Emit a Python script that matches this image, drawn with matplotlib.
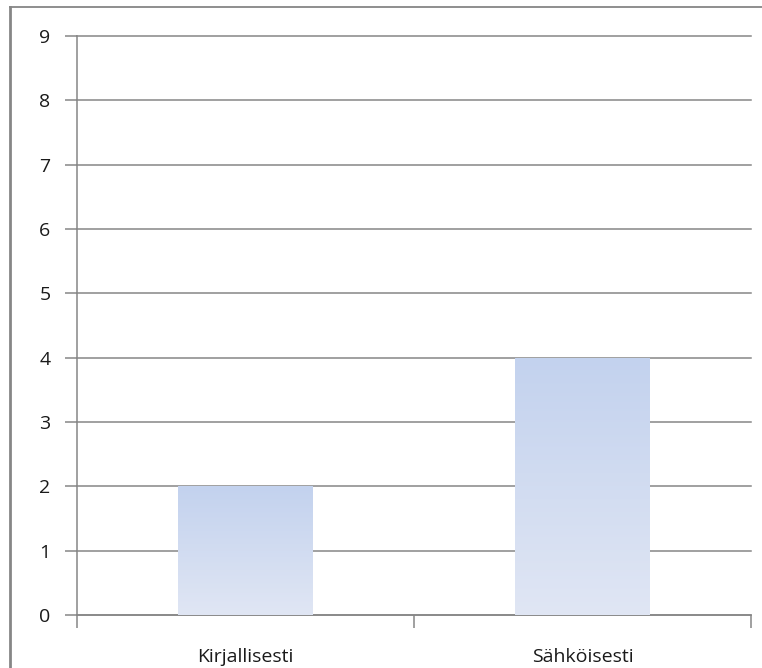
import numpy as np
import matplotlib.pyplot as plt
from matplotlib.lines import Line2D
from matplotlib.colors import LinearSegmentedColormap

categories = ["Kirjallisesti", "Sähköisesti"]
values = [2, 4]
y_ticks = list(range(0, 10))

grid_color = "#868686"
gradient = LinearSegmentedColormap.from_list("bar_grad", ["#E0E6F4", "#C3D2EE"])

fig = plt.figure(figsize=(7.62, 6.68), dpi=100)
ax = fig.add_axes([0.101, 0.0793, 0.8846, 0.8667])

x = np.arange(len(categories))
bars = ax.bar(x, values, width=0.4, color="none", edgecolor="none", zorder=3)

# vertical gradient inside each bar
grad = np.linspace(0, 1, 256).reshape(-1, 1)
for bar in bars:
    x0, y0 = bar.get_x(), bar.get_y()
    img = ax.imshow(grad, cmap=gradient, origin="lower", aspect="auto",
                    extent=(x0, x0 + bar.get_width(), y0, y0 + bar.get_height()),
                    zorder=3, interpolation="bilinear")
    img.set_clip_path(bar)

ax.set_xlim(-0.5, len(categories) - 0.5)
ax.set_ylim(0, 9)
ax.set_yticks(y_ticks)
ax.set_yticklabels([str(t) for t in y_ticks])
ax.set_xticks(x)
ax.set_xticklabels(categories)
ax.set_xticks(np.arange(-0.5, len(categories), 1.0), minor=True)

ax.yaxis.grid(True, color=grid_color, linewidth=1.1, zorder=1)
ax.set_axisbelow(True)
for gl in ax.get_ygridlines():
    gl.set_clip_on(False)

for side in ["top", "right"]:
    ax.spines[side].set_visible(False)
for side in ["left", "bottom"]:
    ax.spines[side].set_color(grid_color)
    ax.spines[side].set_linewidth(1.1)

ax.tick_params(axis="y", which="major", length=9, width=1.1, color=grid_color,
               labelsize=14, labelcolor="#1a1a1a", pad=10)
ax.tick_params(axis="x", which="major", length=0, labelsize=14,
               labelcolor="#1a1a1a", pad=24)
ax.tick_params(axis="x", which="minor", length=9, width=1.1, color=grid_color)

for lbl in ax.get_xticklabels() + ax.get_yticklabels():
    lbl.set_family("Open Sans")

# outer chart frame (cut off at right and bottom)
fig.add_artist(Line2D([10 / 762, 10 / 762], [0, 1 - 7 / 668],
                      transform=fig.transFigure, color=grid_color, linewidth=2))
fig.add_artist(Line2D([10 / 762, 1], [1 - 7 / 668, 1 - 7 / 668],
                      transform=fig.transFigure, color=grid_color, linewidth=1.3))

fig.savefig("out.png", dpi=100)
